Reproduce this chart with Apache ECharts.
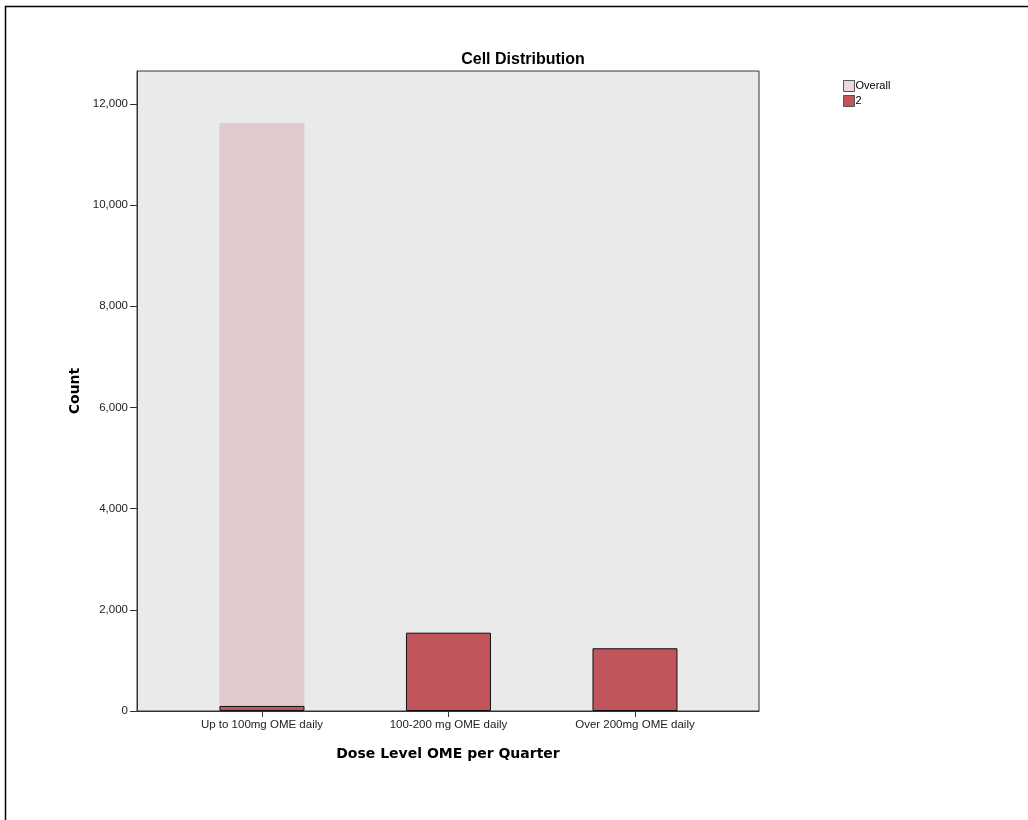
<!DOCTYPE html>
<html>
<head>
<meta charset="utf-8">
<title>Cell Distribution</title>
<script src="https://cdn.jsdelivr.net/npm/echarts@6/dist/echarts.min.js"></script>
<style>
  html, body { margin: 0; padding: 0; background: #fff; }
  #chart { width: 1028px; height: 820px; }
</style>
</head>
<body>
<div id="chart"></div>
<script>
// Dose level categories along the x axis
const categories = ['Up to 100mg OME daily', '100-200 mg OME daily', 'Over 200mg OME daily'];
// Overall count (only shown behind the first category)
const overallValues = [11620];
// Counts for group "2"
const groupValues = [100, 1548, 1240];
// Y axis tick values
const yTicks = [0, 2000, 4000, 6000, 8000, 10000, 12000];

const chart = echarts.init(document.getElementById('chart'), null, { renderer: 'canvas' });

const labelFont = '"Liberation Sans", Arial, sans-serif';
const boldFont = '"DejaVu Sans", Verdana, sans-serif';

const catIdx = categories.map((_, i) => i);

chart.setOption({
  animation: false,
  backgroundColor: '#ffffff',
  title: {
    text: 'Cell Distribution',
    left: 518,
    textAlign: 'center',
    top: 47,
    textStyle: { fontFamily: labelFont, fontSize: 16, fontWeight: 'bold', color: '#000' }
  },
  legend: {
    orient: 'vertical',
    left: 843,
    top: 80,
    padding: 0,
    itemWidth: 11,
    itemHeight: 11,
    itemGap: 3,
    icon: 'rect',
    textStyle: { fontFamily: labelFont, fontSize: 11, color: '#000', padding: [0, 0, 0, -4] },
    data: [
      { name: 'Overall', itemStyle: { color: '#F0D8DA', borderColor: '#555', borderWidth: 1 } },
      { name: '2', itemStyle: { color: '#C0565B', borderColor: '#555', borderWidth: 1 } }
    ]
  },
  grid: {
    left: 137,
    top: 71,
    width: 622,
    height: 640,
    show: true,
    backgroundColor: '#EAEAEA',
    borderColor: '#333',
    borderWidth: 1
  },
  xAxis: {
    type: 'value',
    min: -0.67,
    max: 2.665,
    name: 'Dose Level OME per Quarter',
    nameLocation: 'middle',
    nameGap: 36,
    nameTextStyle: { fontFamily: boldFont, fontSize: 14, fontWeight: 'bold', color: '#000' },
    splitLine: { show: false },
    axisLine: { show: true, onZero: false, lineStyle: { color: '#333', width: 1 } },
    axisTick: { show: true, customValues: catIdx, length: 6, lineStyle: { color: '#333' } },
    axisLabel: {
      customValues: catIdx,
      formatter: v => categories[Math.round(v)] || '',
      margin: 8,
      fontFamily: labelFont,
      fontSize: 11.5,
      color: '#222'
    }
  },
  yAxis: {
    type: 'value',
    min: 0,
    max: 12650,
    name: 'Count',
    nameLocation: 'middle',
    nameGap: 55,
    nameRotate: 90,
    nameTextStyle: { fontFamily: boldFont, fontSize: 14, fontWeight: 'bold', color: '#000' },
    splitLine: { show: false },
    axisLine: { show: true, onZero: false, lineStyle: { color: '#333', width: 1 } },
    axisTick: { show: true, customValues: yTicks, length: 7, lineStyle: { color: '#333' } },
    axisLabel: {
      customValues: yTicks,
      formatter: v => v.toLocaleString('en-US'),
      margin: 9,
      fontFamily: labelFont,
      fontSize: 11.5,
      color: '#222'
    }
  },
  series: [
    {
      name: 'Overall',
      type: 'bar',
      barWidth: 85,
      barGap: '-100%',
      data: overallValues.map((v, i) => [i, v]),
      itemStyle: { color: '#E0CACD' },
      z: 1
    },
    {
      name: '2',
      type: 'bar',
      barWidth: 85,
      barGap: '-100%',
      data: groupValues.map((v, i) => [i, v]),
      itemStyle: { color: '#C0565B', borderColor: '#111', borderWidth: 1 },
      z: 2
    }
  ],
  graphic: [
    {
      type: 'polyline',
      shape: { points: [[5.5, 820], [5.5, 6.5], [1028, 6.5]] },
      style: { stroke: '#000', lineWidth: 1.5, fill: null },
      silent: true
    }
  ]
});
</script>
</body>
</html>
